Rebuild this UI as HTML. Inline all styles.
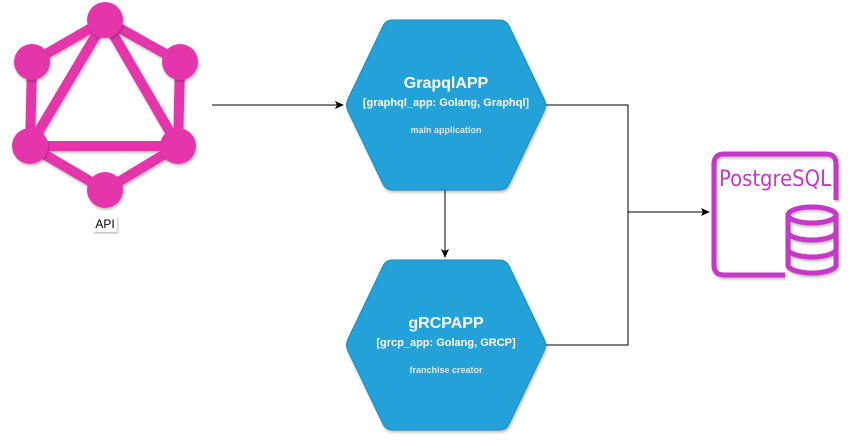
<!DOCTYPE html>
<html><head><style>body{margin:0;background:#fff;width:849px;height:442px;overflow:hidden}</style></head>
<body>
<svg width="849" height="442" xmlns="http://www.w3.org/2000/svg" font-family="Liberation Sans, sans-serif">
<defs>
<marker id="a" markerWidth="10" markerHeight="10" refX="8" refY="4" orient="auto" markerUnits="userSpaceOnUse"><path d="M0,0 L9,4 L0,8 L2,4 Z" fill="#000"/></marker>
<filter id="s"><feDropShadow dx="1" dy="2" stdDeviation="1.2" flood-opacity="0.25"/></filter>
</defs>
<g stroke="#e535ab" stroke-width="10" fill="none" filter="url(#s)">
<polygon points="105,20 180,62 178,146 105,190 30,146 32,62"/>
<polygon points="105,20 178,146 30,146"/>
</g>
<g fill="#e535ab" filter="url(#s)">
<circle cx="105" cy="20" r="18"/><circle cx="180" cy="62" r="18"/><circle cx="178" cy="146" r="18"/>
<circle cx="105" cy="190" r="18"/><circle cx="30" cy="146" r="18"/><circle cx="32" cy="62" r="18"/>
</g>
<rect x="93" y="215" width="24" height="17" fill="#fff" filter="url(#s)"/>
<text x="105" y="228" font-size="12" text-anchor="middle" fill="#000">API</text>
<g stroke="#000" stroke-width="1" fill="none">
<path d="M212,105 H343" marker-end="url(#a)"/>
<path d="M545,105 H628 V212 H709" marker-end="url(#a)"/>
<path d="M545,345 H628 V212"/>
<path d="M445,190 V257" marker-end="url(#a)"/>
</g>
<g fill="#23a2d9" stroke="#1c8bbd" stroke-width="1" stroke-linejoin="round" filter="url(#s)">
<path d="M392,20 H500 Q506,20 509,26 L544,99 Q547,105 544,111 L509,184 Q506,190 500,190 H392 Q386,190 383,184 L348,111 Q345,105 348,99 L383,26 Q386,20 392,20 Z"/>
<path d="M392,260 H500 Q506,260 509,266 L544,339 Q547,345 544,351 L509,424 Q506,430 500,430 H392 Q386,430 383,424 L348,351 Q345,345 348,339 L383,266 Q386,260 392,260 Z"/>
</g>
<g fill="#fff" text-anchor="middle">
<text x="446" y="88" font-size="16" font-weight="bold">GrapqlAPP</text>
<text x="446" y="106" font-size="11" font-weight="bold">[graphql_app: Golang, Graphql]</text>
<text x="446" y="133" font-size="9" font-weight="bold" fill="#dde6ea">main application</text>
<text x="446" y="328" font-size="16" font-weight="bold">gRCPAPP</text>
<text x="446" y="346" font-size="11" font-weight="bold">[grcp_app: Golang, GRCP]</text>
<text x="446" y="373" font-size="9" font-weight="bold" fill="#dde6ea">franchise creator</text>
</g>
<g stroke="#c837c8" stroke-width="5" fill="none" filter="url(#s)">
<path d="M785,275 H724 Q714,275 714,265 V164 Q714,154 724,154 H826 Q836,154 836,164 V200"/>
<ellipse cx="812" cy="215" rx="24" ry="8"/>
<path d="M788,215 V265 A24,8 0 0 0 836,265 V215"/>
<path d="M788,232 A24,8 0 0 0 836,232"/>
<path d="M788,249 A24,8 0 0 0 836,249"/>
</g>
<text x="775" y="186" font-size="22" fill="#c837c8" text-anchor="middle" font-family="DejaVu Sans, sans-serif" textLength="112" lengthAdjust="spacingAndGlyphs">PostgreSQL</text>
</svg>
</body></html>
